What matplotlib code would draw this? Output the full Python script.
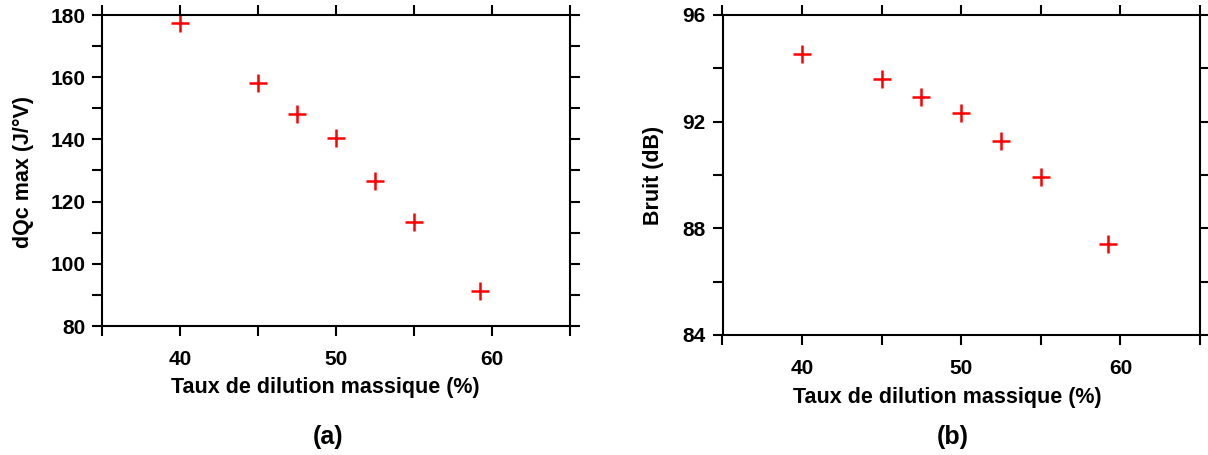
import matplotlib
matplotlib.use("Agg")
import matplotlib.pyplot as plt
from matplotlib.ticker import MultipleLocator

# dilution rate (%)
dilution = [40.0, 45.0, 47.5, 50.0, 52.5, 55.0, 59.2]
# (a) max heat release rate
dqc_max = [177.3, 158.2, 148.1, 140.4, 126.5, 113.6, 91.1]
# (b) noise
bruit = [94.53, 93.59, 92.94, 92.31, 91.27, 89.94, 87.4]

plt.rcParams['font.family'] = ['Liberation Sans', 'DejaVu Sans']
plt.rcParams['font.weight'] = 'bold'

W, H = 1208, 455
fig = plt.figure(figsize=(W / 100, H / 100), dpi=100)

def px_axes(x0, x1, ytop, ybot):
    return fig.add_axes([x0 / W, 1 - ybot / H, (x1 - x0) / W, (ybot - ytop) / H])

def style(ax, ymaj, ymin):
    ax.set_xlim(35, 65)
    ax.xaxis.set_major_locator(MultipleLocator(10))
    ax.xaxis.set_minor_locator(MultipleLocator(5))
    ax.yaxis.set_major_locator(MultipleLocator(ymaj))
    ax.yaxis.set_minor_locator(MultipleLocator(ymin))
    for s in ax.spines.values():
        s.set_linewidth(1.5)
    ax.tick_params(which='both', direction='out', length=7, width=1.5,
                   top=True, right=True, labelsize=15)
    ax.tick_params(axis='x', which='both', pad=10)
    ax.tick_params(axis='y', which='both', pad=5)
    for lab in ax.get_xticklabels() + ax.get_yticklabels():
        lab.set_fontweight('bold')

# (a)
ax1 = px_axes(102, 570, 15, 326)
ax1.plot(dilution, dqc_max, '+', color='#ff0000', markersize=13, markeredgewidth=1.8, clip_on=False)
ax1.set_ylim(80, 180)
style(ax1, 20, 10)
fig.text(23 / W, 1 - 172 / H, 'dQc max (J/°V)', rotation=90, ha='center', va='center',
         fontsize=15.5, fontweight='bold')
fig.text(325 / W, 1 - 387 / H, 'Taux de dilution massique (%)', ha='center', va='center',
         fontsize=15.5, fontweight='bold')
fig.text(328 / W, 1 - 437 / H, '(a)', ha='center', va='center', fontsize=18, fontweight='bold')

# (b)
ax2 = px_axes(722.5, 1200, 15, 335)
ax2.plot(dilution, bruit, '+', color='#ff0000', markersize=13, markeredgewidth=1.8, clip_on=False)
ax2.set_ylim(84, 96)
style(ax2, 4, 2)
fig.text(654 / W, 1 - 175 / H, 'Bruit (dB)', rotation=90, ha='center', va='center',
         fontsize=15.5, fontweight='bold')
fig.text(947 / W, 1 - 397 / H, 'Taux de dilution massique (%)', ha='center', va='center',
         fontsize=15.5, fontweight='bold')
fig.text(953 / W, 1 - 437 / H, '(b)', ha='center', va='center', fontsize=18, fontweight='bold')

fig.savefig('out.png', dpi=100)
